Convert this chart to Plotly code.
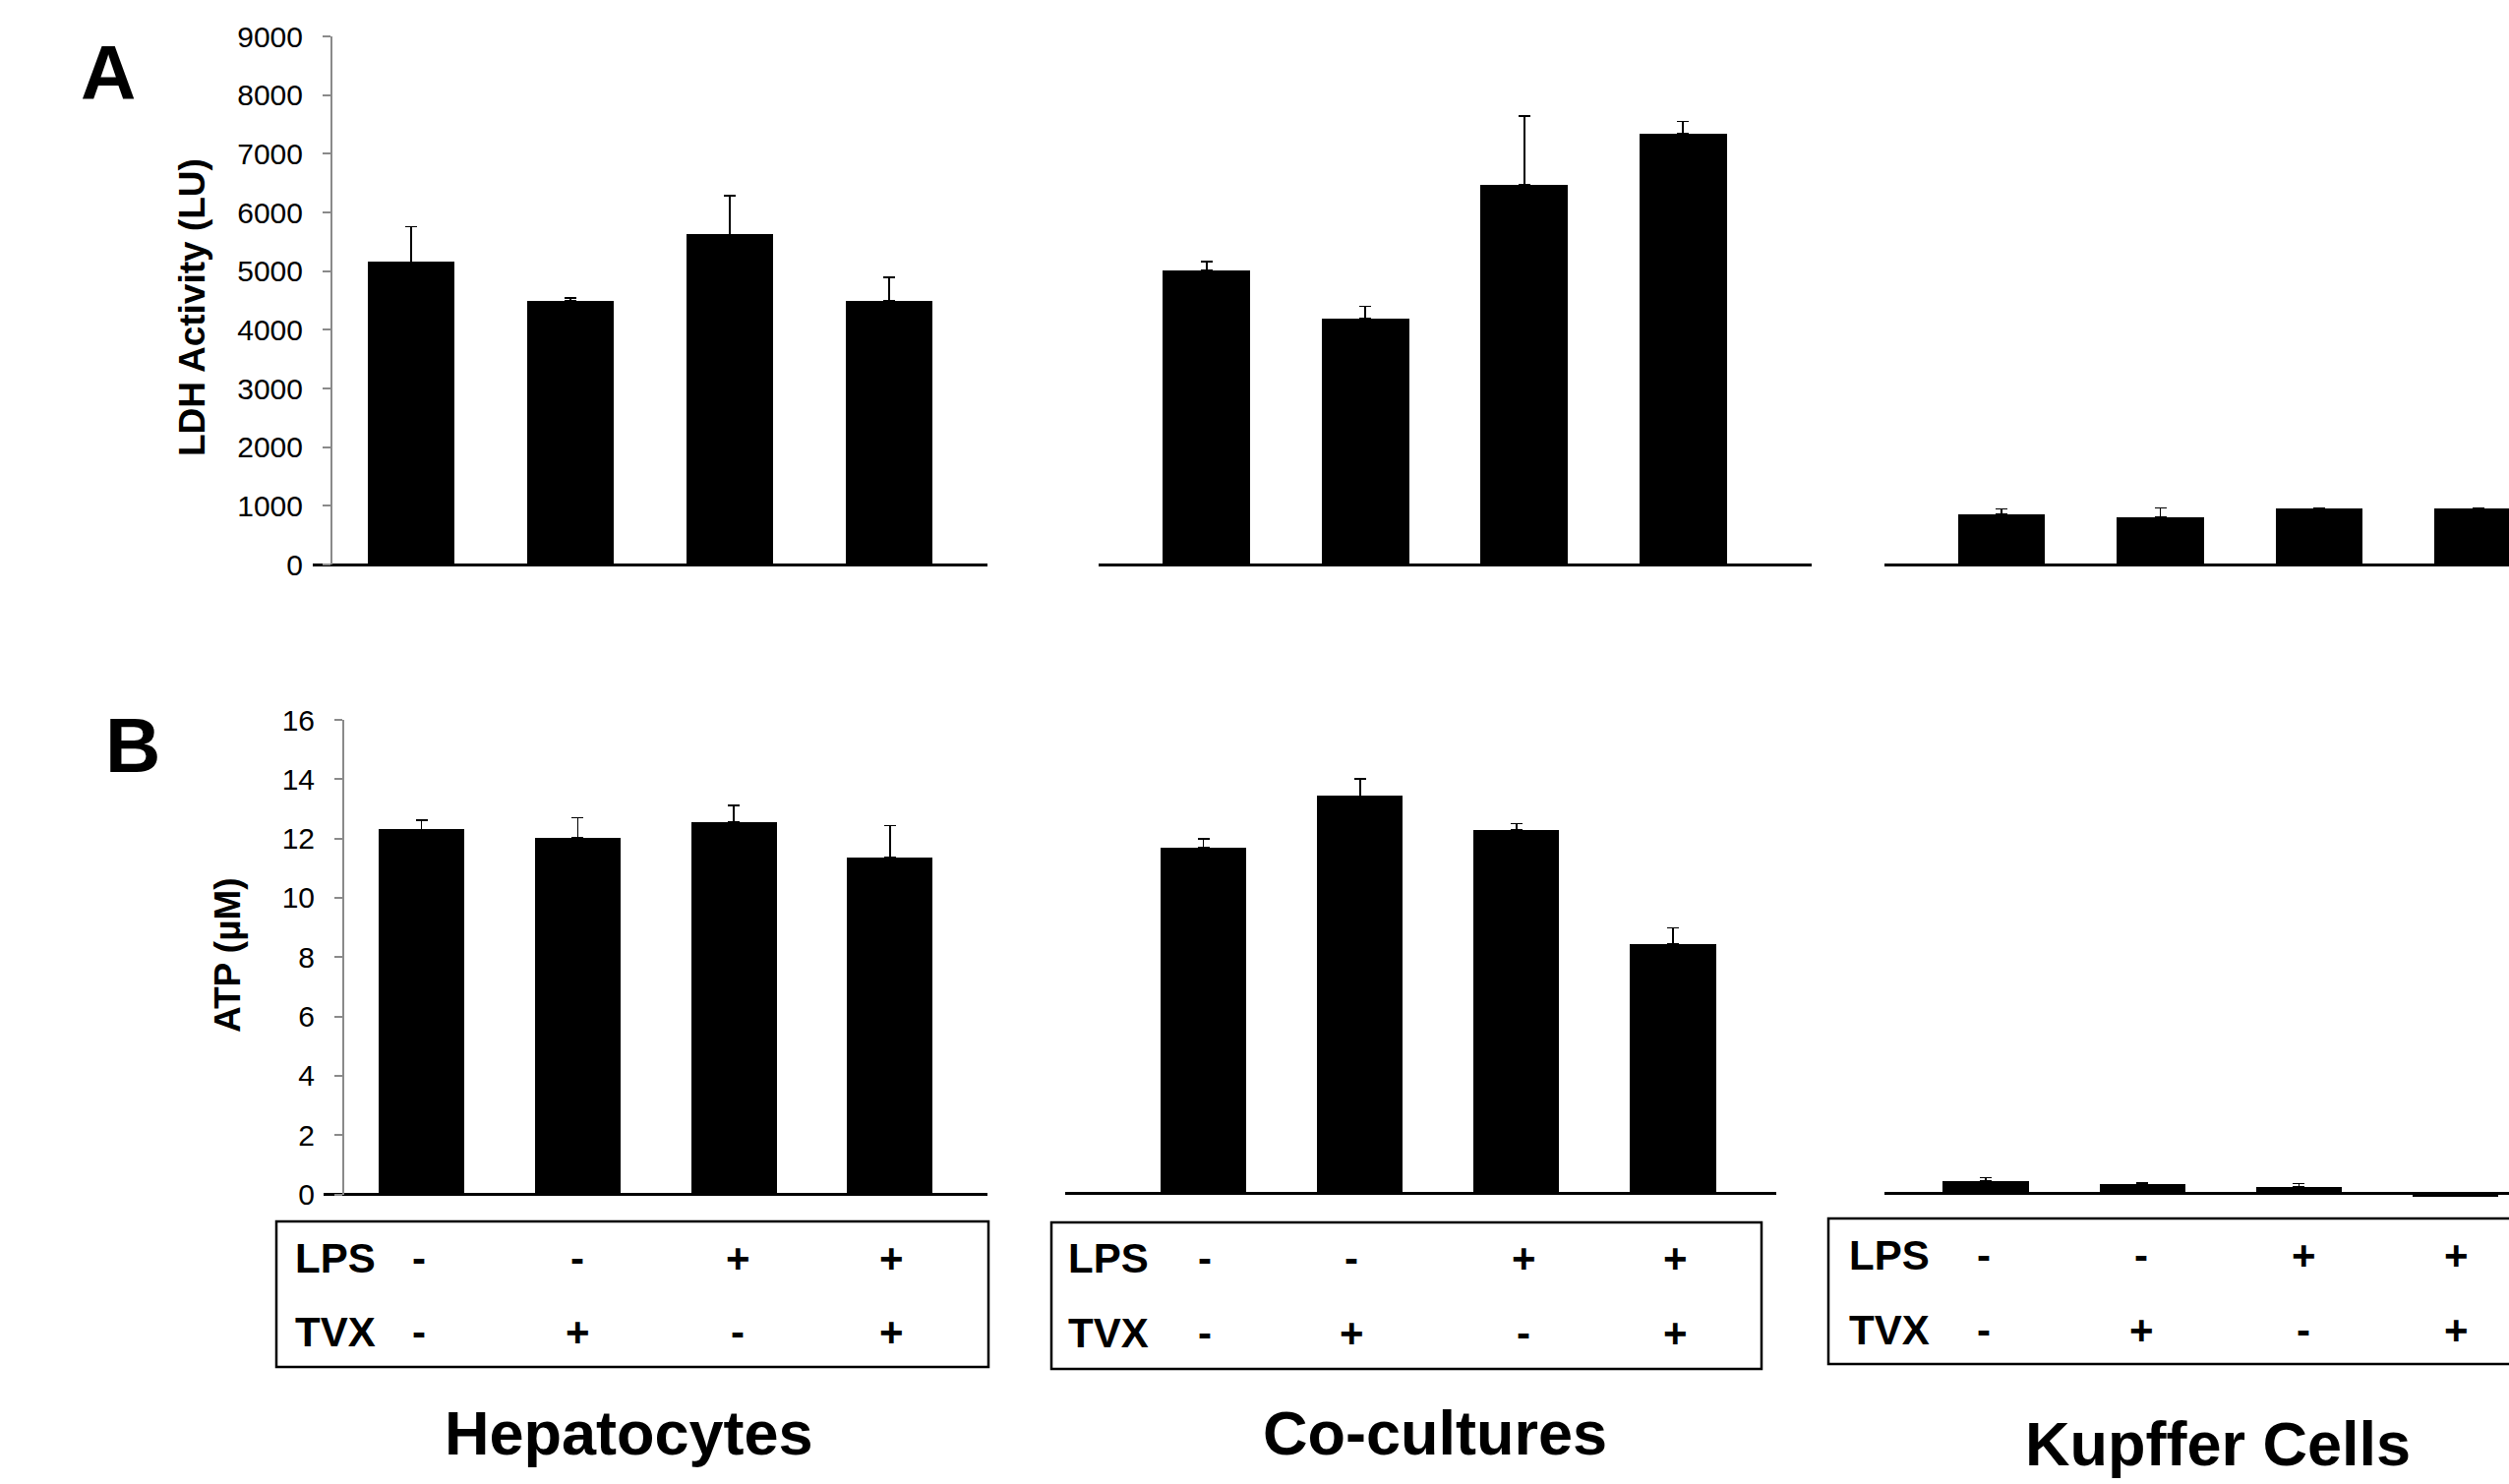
import math
import plotly.graph_objects as go

W, H = 2551, 1509

# ---------------- data ----------------
groups = ["Hepatocytes", "Co-cultures", "Kupffer Cells"]
conditions = [0, 1, 2, 3]
lps = ["-", "-", "+", "+"]
tvx = ["-", "+", "-", "+"]

NA = math.nan  # no error bar drawn

ldh_hep = [5155, 4490, 5625, 4500]
ldh_hep_err = [600, 50, 660, 390]
ldh_co = [5010, 4195, 6475, 7345]
ldh_co_err = [150, 205, 1170, 205]
ldh_kc = [860, 800, 960, 960]
ldh_kc_err = [90, 165, NA, NA]

atp_hep = [12.31, 12.02, 12.56, 11.37]
atp_hep_err = [0.31, 0.68, 0.56, 1.07]
atp_co = [11.68, 13.43, 12.27, 8.42]
atp_co_err = [0.30, 0.58, 0.23, 0.56]
atp_kc = [0.43, 0.33, 0.22, -0.10]
atp_kc_err = [0.10, 0.04, 0.12, NA]

ldh_ticks = list(range(0, 9001, 1000))
atp_ticks = list(range(0, 17, 2))


def px(x):
    return x / W


def py(y):
    return 1 - y / H


FONT = "Liberation Sans, Arial, Helvetica, sans-serif"
GRAY = "#8a8a8a"

fig = go.Figure()

panels = [
    # (values, errors, xaxis, yaxis, bar width)
    (ldh_hep, ldh_hep_err, "x", "y", 0.543),
    (ldh_co, ldh_co_err, "x2", "y2", 0.55),
    (ldh_kc, ldh_kc_err, "x3", "y3", 0.55),
    (atp_hep, atp_hep_err, "x4", "y4", 0.547),
    (atp_co, atp_co_err, "x5", "y5", 0.547),
    (atp_kc, atp_kc_err, "x6", "y6", 0.547),
]
for vals, errs, xa, ya, bw in panels:
    fig.add_trace(go.Bar(
        x=conditions, y=vals, xaxis=xa, yaxis=ya, width=bw,
        marker=dict(color="black", line=dict(width=0)),
        error_y=dict(type="data", symmetric=False, array=errs,
                     arrayminus=[0] * len(errs), color="black",
                     thickness=1.6, width=6, visible=True),
        showlegend=False, hoverinfo="skip",
    ))

hidden_x = dict(showline=False, showticklabels=False, showgrid=False,
                zeroline=False, ticks="", fixedrange=True, automargin=False)

# x domains (pixel) and ranges
xdefs = {
    "xaxis": ((318, 1004), (-0.617, 3.617), "y"),
    "xaxis2": ((1117, 1842), (-0.68, 3.81), "y2"),
    "xaxis3": ((1916, 2551), (-0.737, 3.195), "y3"),
    "xaxis4": ((329, 1004), (-0.627, 3.624), "y4"),
    "xaxis5": ((1083, 1806), (-0.884, 3.66), "y5"),
    "xaxis6": ((1916, 2551), (-0.647, 3.342), "y6"),
}
layout = {}
for name, (dom, rng, anc) in xdefs.items():
    layout[name] = dict(domain=[px(dom[0]), px(dom[1])], range=list(rng),
                        anchor=anc, **hidden_x)

shown_y = dict(showline=True, linecolor=GRAY, linewidth=2, ticks="outside",
               ticklen=8, tickwidth=2, tickcolor=GRAY, showgrid=False,
               zeroline=True, zerolinecolor="black", zerolinewidth=3,
               tickfont=dict(family=FONT, size=30, color="black"),
               ticklabelstandoff=14, fixedrange=True, automargin=False)
hide_y = dict(showline=False, showticklabels=False, ticks="", showgrid=False,
              zeroline=True, zerolinecolor="black", zerolinewidth=3,
              fixedrange=True, automargin=False)

domA = [py(574), py(37)]
domB = [py(1214.6), py(732)]
layout["yaxis"] = dict(domain=domA, range=[0, 9000], anchor="free",
                       position=px(337), tickvals=ldh_ticks, **shown_y)
layout["yaxis2"] = dict(domain=domA, range=[0, 9000], anchor="x2", **hide_y)
layout["yaxis3"] = dict(domain=domA, range=[0, 9000], anchor="x3", **hide_y)
layout["yaxis4"] = dict(domain=domB, range=[0, 16], anchor="free",
                        position=px(349), tickvals=atp_ticks, **shown_y)
layout["yaxis5"] = dict(domain=[py(1213.6), py(732)], range=[0, 16],
                        anchor="x5", **hide_y)
layout["yaxis6"] = dict(domain=[py(1213.6 + 0.5 * 30.2), py(732)],
                        range=[-0.5, 16], anchor="x6", **hide_y)

annotations = []


def text(x, y, s, size, bold=True, angle=0, family=FONT):
    annotations.append(dict(
        x=px(x), y=py(y), xref="paper", yref="paper", text=s,
        showarrow=False, xanchor="center", yanchor="middle",
        textangle=angle,
        font=dict(family=family, size=size, color="black",
                  weight="bold" if bold else "normal"),
    ))


# panel letters
text(110, 74, "A", 78, family="Liberation Sans Narrow, " + FONT)
text(135, 758, "B", 78, family="Liberation Sans Narrow, " + FONT)

# axis titles
text(195, 313, "LDH Activity (LU)", 37, angle=-90)
text(231, 971, "ATP (µM)", 37, angle=-90)

# treatment tables
boxes = [
    # left, top, right, bottom, label x, row ys, symbol xs
    (281, 1242, 1005, 1390, 341, (1279, 1354), [426, 587, 750, 906]),
    (1069, 1243, 1791, 1392, 1127, (1279, 1355), [1225, 1374, 1549, 1703]),
    (1859, 1239, 2560, 1387, 1921, (1276, 1352), [2017, 2177, 2342, 2497]),
]
shapes = []
for (l, t, r, b, lx, (ylps, ytvx), sx) in boxes:
    shapes.append(dict(type="rect", xref="paper", yref="paper",
                       x0=px(l), x1=px(r), y0=py(b), y1=py(t),
                       line=dict(color="black", width=2.5),
                       fillcolor="rgba(0,0,0,0)"))
    text(lx, ylps, "LPS", 42)
    text(lx, ytvx, "TVX", 42)
    for xi, s1, s2 in zip(sx, lps, tvx):
        text(xi, ylps, s1, 42)
        text(xi, ytvx, s2, 42)

# group labels
for gname, gx, gy in zip(groups, [639, 1459, 2255], [1457, 1457, 1468]):
    text(gx, gy, gname, 63)

fig.update_layout(
    width=W, height=H,
    margin=dict(l=0, r=0, t=0, b=0, pad=0, autoexpand=False),
    paper_bgcolor="white", plot_bgcolor="rgba(0,0,0,0)",
    showlegend=False, bargap=0,
    annotations=annotations, shapes=shapes,
    **layout,
)

fig.write_html("out.html", config={"displayModeBar": False})
